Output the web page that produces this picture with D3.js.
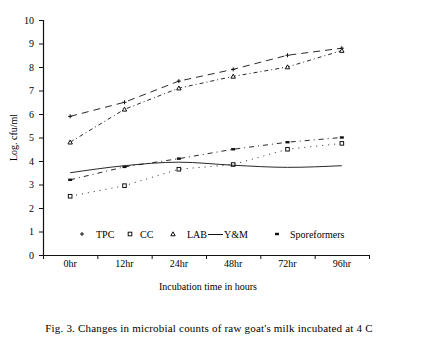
<!DOCTYPE html>
<html>
<head>
<meta charset="utf-8">
<script src="https://cdn.jsdelivr.net/npm/d3@7/dist/d3.min.js"></script>
<style>
  body { margin: 0; background: #fff; }
  svg { display: block; font-family: "Liberation Serif", "DejaVu Serif", serif; }
</style>
</head>
<body>
<div id="chart"></div>
<script>
// Chart data
const hours = ['0hr', '12hr', '24hr', '48hr', '72hr', '96hr'];
const tpc = [5.9, 6.5, 7.4, 7.9, 8.5, 8.8];
const cc = [2.5, 2.95, 3.65, 3.85, 4.5, 4.75];
const lab = [4.8, 6.2, 7.1, 7.6, 8.0, 8.7];
const yeastMould = [3.5, 3.8, 3.95, 3.82, 3.73, 3.8];
const sporeformers = [3.2, 3.75, 4.1, 4.5, 4.8, 5.0];
const yTicks = [0, 1, 2, 3, 4, 5, 6, 7, 8, 9, 10];

const series = [
  { name: 'TPC', values: tpc, dash: '7,5', marker: 'plus' },
  { name: 'CC', values: cc, dash: '1,5', marker: 'square' },
  { name: 'LAB', values: lab, dash: '4,3,1,3', marker: 'triangle' },
  { name: 'Y&M', values: yeastMould, dash: null, marker: null },
  { name: 'Sporeformers', values: sporeformers, dash: '5,4,1,4', marker: 'dash' }
];

const W = 444, H = 339;
const margin = { left: 43, right: 75, top: 20, bottom: 84 };

const svg = d3.select('#chart').append('svg')
  .attr('width', W)
  .attr('height', H);

const x = d3.scaleBand()
  .domain(hours)
  .range([margin.left, W - margin.right])
  .padding(0);

const y = d3.scaleLinear()
  .domain([0, 10])
  .range([H - margin.bottom, margin.top]);

const ink = '#111';

// Y axis
const yAxis = svg.append('g')
  .attr('transform', `translate(${margin.left},0)`)
  .call(d3.axisLeft(y).tickValues(yTicks).tickSize(4).tickPadding(5).tickFormat(d3.format('d')));

// X axis: ticks sit on band edges, labels centred in bands
const xAxis = svg.append('g')
  .attr('transform', `translate(0,${y(0)})`)
  .call(d3.axisBottom(x).tickSize(0).tickPadding(5));

const edges = hours.map(h => x(h)).concat([x.range()[1]]);
xAxis.selectAll('.edge')
  .data(edges)
  .enter()
  .append('line')
  .attr('class', 'edge')
  .attr('x1', d => d + 0.5)
  .attr('x2', d => d + 0.5)
  .attr('y1', 0)
  .attr('y2', 4);

[yAxis, xAxis].forEach(a => {
  a.select('.domain').attr('stroke', ink).attr('stroke-width', 1.2);
  a.selectAll('line').attr('stroke', ink);
  a.selectAll('text').attr('fill', '#000').attr('font-size', '10px')
    .attr('font-family', '"Liberation Serif", serif');
});
xAxis.select('.domain').attr('d', `M${margin.left},0.5H${x.range()[1]}`);

// Axis titles
svg.append('text')
  .attr('x', (margin.left + x.range()[1]) / 2 + 2)
  .attr('y', 290)
  .attr('text-anchor', 'middle')
  .attr('font-size', '10px')
  .text('Incubation time in hours');

svg.append('text')
  .attr('transform', `translate(17,${(y(0) + y(10)) / 2}) rotate(-90)`)
  .attr('text-anchor', 'middle')
  .attr('font-size', '10px')
  .text('Log. cfu/ml');

// Caption
svg.append('text')
  .attr('x', 209)
  .attr('y', 332)
  .attr('text-anchor', 'middle')
  .attr('font-size', '11px')
  .attr('letter-spacing', '0.2px')
  .text('Fig. 3. Changes in microbial counts of raw goat\'s  milk incubated at 4 C');

const cx = i => x(hours[i]) + x.bandwidth() / 2;

// Draw a small marker
function drawMarker(g, type, px, py) {
  if (type === 'plus') {
    g.append('path')
      .attr('d', `M${px - 2},${py}H${px + 2}M${px},${py - 2}V${py + 2}`)
      .attr('stroke', ink).attr('stroke-width', 1).attr('fill', 'none');
  } else if (type === 'square') {
    g.append('rect')
      .attr('x', px - 1.8).attr('y', py - 1.8).attr('width', 3.6).attr('height', 3.6)
      .attr('stroke', ink).attr('stroke-width', 1).attr('fill', '#fff');
  } else if (type === 'triangle') {
    g.append('path')
      .attr('d', `M${px},${py - 2.2}L${px + 2.2},${py + 1.8}L${px - 2.2},${py + 1.8}Z`)
      .attr('stroke', ink).attr('stroke-width', 1).attr('fill', '#fff');
  } else if (type === 'dash') {
    g.append('rect')
      .attr('x', px - 2).attr('y', py - 1.2).attr('width', 4).attr('height', 2.4)
      .attr('fill', ink);
  }
}

// Lines and markers
const line = d3.line()
  .x((d, i) => cx(i))
  .y(d => y(d));

series.forEach(s => {
  svg.append('path')
    .datum(s.values)
    .attr('fill', 'none')
    .attr('stroke', ink)
    .attr('stroke-width', 0.9)
    .attr('stroke-dasharray', s.dash)
    .attr('d', s.marker ? line.curve(d3.curveLinear)(s.values) : line.curve(d3.curveMonotoneX)(s.values));
  if (s.marker) {
    const g = svg.append('g');
    s.values.forEach((v, i) => drawMarker(g, s.marker, cx(i), y(v)));
  }
});

// Legend
const legendY = 234;
const legendItems = [
  { s: series[0], mx: 82, tx: 96 },
  { s: series[1], mx: 130, tx: 140 },
  { s: series[2], mx: 173, tx: 187 },
  { s: series[3], mx: 215, tx: 224 },
  { s: series[4], mx: 277, tx: 290 }
];
const legend = svg.append('g');
legendItems.forEach(d => {
  if (d.s.marker) {
    drawMarker(legend, d.s.marker, d.mx, legendY);
  } else {
    legend.append('line')
      .attr('x1', d.mx - 7).attr('x2', d.mx + 8)
      .attr('y1', legendY + 0.5).attr('y2', legendY + 0.5)
      .attr('stroke', ink);
  }
  legend.append('text')
    .attr('x', d.tx)
    .attr('y', legendY + 3.5)
    .attr('font-size', '10px')
    .text(d.s.name);
});
</script>
</body>
</html>
